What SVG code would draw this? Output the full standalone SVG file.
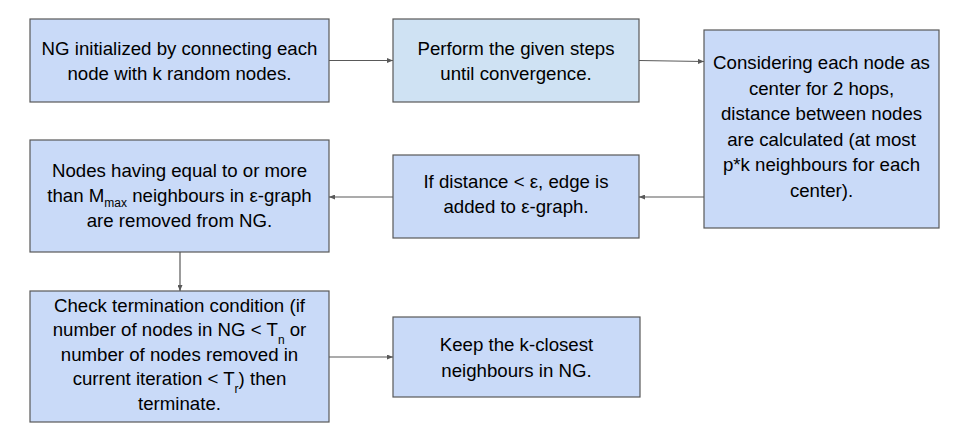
<svg xmlns="http://www.w3.org/2000/svg" width="960" height="442" viewBox="0 0 960 442">
<style>
.box{fill:#c9daf8;stroke:#595959;stroke-width:1.2}
.box2{fill:#cfe2f3;stroke:#595959;stroke-width:1.2}
.t{font-family:"Liberation Sans",Arial,sans-serif;font-size:18.67px;fill:#000;text-anchor:middle}
.sub{font-size:12px}
.edge{stroke:#595959;stroke-width:1.2;fill:none;marker-end:url(#ah)}
</style>
<defs>
<marker id="ah" markerWidth="6" markerHeight="5" refX="6" refY="2.5" orient="auto" markerUnits="userSpaceOnUse">
<path d="M0,0 L6,2.5 L0,5 Z" fill="#595959"/>
</marker>
</defs>
<rect width="960" height="442" fill="#ffffff"/>
<g id="connectors">
<line class="edge" x1="329" y1="60.5" x2="393" y2="60.5"/>
<line class="edge" x1="639" y1="60.5" x2="704" y2="61.5"/>
<line class="edge" x1="704" y1="197" x2="639" y2="197"/>
<line class="edge" x1="393" y1="197" x2="329" y2="197"/>
<line class="edge" x1="180" y1="252" x2="180" y2="291"/>
<line class="edge" x1="329" y1="357" x2="393" y2="357"/>
</g>
<g id="n1">
<rect class="box" x="30" y="19" width="299" height="83"/>
<text class="t" x="179.5" y="54.5">NG initialized by connecting each</text>
<text class="t" x="179.5" y="80">node with k random nodes.</text>
</g>
<g id="n2">
<rect class="box2" x="393" y="19" width="246" height="83"/>
<text class="t" x="516" y="54.5">Perform the given steps</text>
<text class="t" x="516" y="80">until convergence.</text>
</g>
<g id="n3">
<rect class="box" x="704" y="30" width="235" height="198"/>
<text class="t" x="821.5" y="69">Considering each node as</text>
<text class="t" x="821.5" y="94.5">center for 2 hops,</text>
<text class="t" x="821.5" y="120">distance between nodes</text>
<text class="t" x="821.5" y="145.5">are calculated (at most</text>
<text class="t" x="821.5" y="171">p*k neighbours for each</text>
<text class="t" x="821.5" y="196.5">center).</text>
</g>
<g id="n4">
<rect class="box" x="30" y="140" width="299" height="112"/>
<text class="t" x="179.5" y="176.7">Nodes having equal to or more</text>
<text class="t" x="179.5" y="201.7">than M<tspan class="sub" dy="5.5">max</tspan><tspan dy="-5.5"> neighbours in ε-graph</tspan></text>
<text class="t" x="179.5" y="226.7">are removed from NG.</text>
</g>
<g id="n5">
<rect class="box" x="393" y="155" width="246" height="83"/>
<text class="t" x="516" y="187.5">If distance &lt; ε, edge is</text>
<text class="t" x="516" y="213">added to ε-graph.</text>
</g>
<g id="n6">
<rect class="box" x="30" y="291" width="299" height="131"/>
<text class="t" x="179.5" y="311.5">Check termination condition (if</text>
<text class="t" x="179.5" y="336">number of nodes in NG &lt; T<tspan class="sub" dy="8">n</tspan><tspan dy="-8"> or</tspan></text>
<text class="t" x="179.5" y="360.5">number of nodes removed in</text>
<text class="t" x="179.5" y="385">current iteration &lt; T<tspan class="sub" dy="8">r</tspan><tspan dy="-8">) then</tspan></text>
<text class="t" x="179.5" y="409.5">terminate.</text>
</g>
<g id="n7">
<rect class="box" x="393" y="317" width="247" height="80"/>
<text class="t" x="516.5" y="351">Keep the k-closest</text>
<text class="t" x="516.5" y="377">neighbours in NG.</text>
</g>
</svg>
